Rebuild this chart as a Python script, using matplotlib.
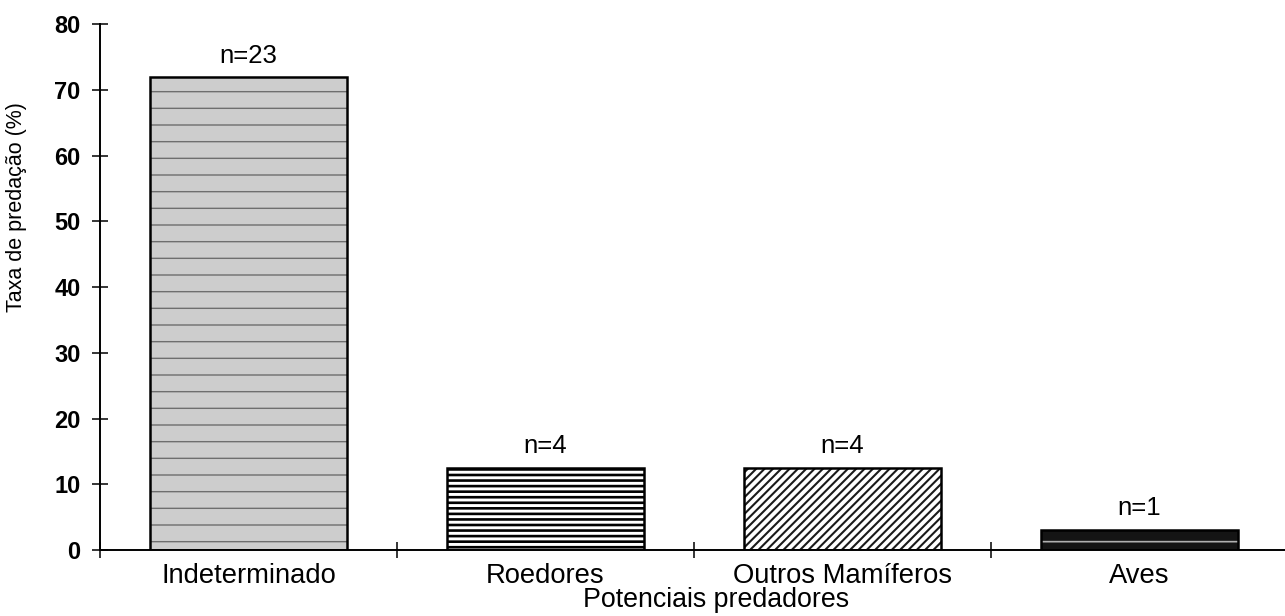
import matplotlib
matplotlib.use("Agg")
import matplotlib.pyplot as plt
import numpy as np

plt.rcParams["font.family"] = ["Liberation Sans", "DejaVu Sans"]

categories = ["Indeterminado", "Roedores", "Outros Mamíferos", "Aves"]
rates = [71.9, 12.5, 12.5, 3.1]
counts = ["n=23", "n=4", "n=4", "n=1"]

# fill, hatch colour, hatch pattern, hatch width per bar
fills = ["#cdcdcd", "white", "white", "#141414"]
hatch_colors = ["#6e6e6e", "black", "#1a1a1a", "#b0b0b0"]
hatches = ["-", "---", "////", "-"]
hatch_lw = [1.0, 1.9, 1.5, 1.2]

fig = plt.figure(figsize=(12.85, 6.16), dpi=100)
ax = fig.add_axes([0.0778, 0.1071, 0.9222, 0.8539])

x = np.arange(len(categories))
width = 0.665

# textured fill, then a plain black outline on top
for xi, val, fc, hc, h, hlw in zip(x, rates, fills, hatch_colors, hatches, hatch_lw):
    with plt.rc_context({"hatch.linewidth": hlw}):
        bars = ax.bar(xi, val, width, color=fc, edgecolor=hc, hatch=h, linewidth=0)
    for b in bars:
        if hasattr(b, "set_hatch_linewidth"):
            b.set_hatch_linewidth(hlw)
ax.bar(x, rates, width, fill=False, edgecolor="black", linewidth=1.8)

for xi, val, label in zip(x, rates, counts):
    ax.annotate(label, (xi, val), xytext=(0, 7), textcoords="offset points",
                ha="center", va="bottom", fontsize=18.5)

ax.set_xlim(-0.5, 3.49)
ax.set_ylim(0, 80)
ax.set_yticks(range(0, 81, 10))
ax.set_xticks(x)
ax.set_xticklabels(categories, fontsize=19.7)
ax.set_xticks(np.arange(-0.5, 3.0, 1.0), minor=True)

for lbl in ax.get_yticklabels():
    lbl.set_fontweight("bold")
    lbl.set_fontsize(17)

ax.tick_params(axis="x", which="major", length=0, pad=9)
ax.tick_params(axis="x", which="minor", direction="inout", length=11, width=1.1)
ax.tick_params(axis="y", direction="inout", length=12, width=1.1, pad=8)

for side in ["top", "right"]:
    ax.spines[side].set_visible(False)
for side in ["left", "bottom"]:
    ax.spines[side].set_linewidth(1.4)

ax.set_xlabel("Potenciais predadores", fontsize=19.3)
ax.xaxis.set_label_coords(0.52, -0.07)
ax.set_ylabel("Taxa de predação (%)", fontsize=15.5)
ax.yaxis.set_label_coords(-0.062, 0.652)

fig.savefig("out.png", dpi=100)
